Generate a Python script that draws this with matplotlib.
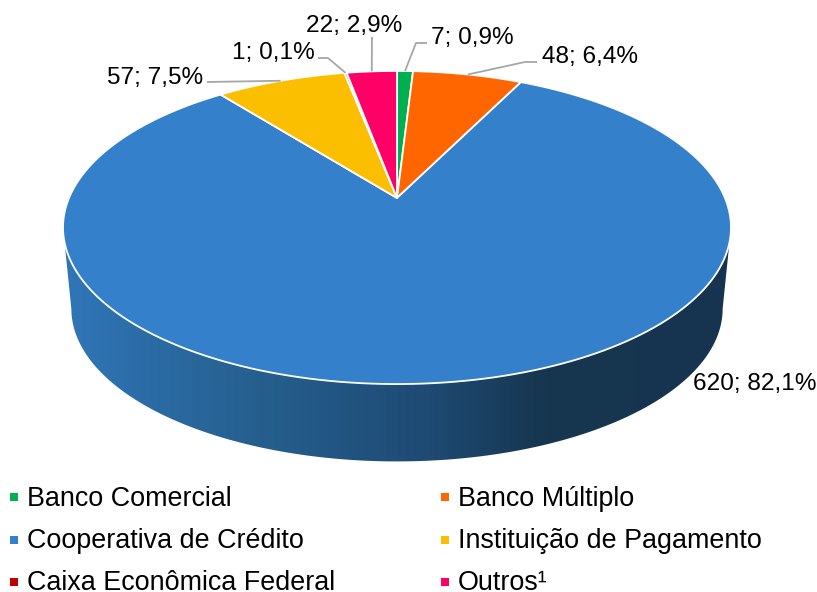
import numpy as np
import matplotlib
matplotlib.use("Agg")
import matplotlib.pyplot as plt
from matplotlib.colors import LinearSegmentedColormap
from matplotlib.patches import Polygon

plt.rcParams['font.family'] = ['Liberation Sans', 'DejaVu Sans']

names = ["Banco Comercial", "Banco Múltiplo", "Cooperativa de Crédito",
         "Instituição de Pagamento", "Caixa Econômica Federal", "Outros¹"]
values = [7, 48, 620, 57, 1, 22]
percents = ["0,9%", "6,4%", "82,1%", "7,5%", "0,1%", "2,9%"]
colors = ["#00B050", "#FF6600", "#3580CB", "#FCBF00", "#C00000", "#FF0066"]

# perspective disc, in pixels
cx, cy = 397, 198
A, B, k = 328, 151, 0.1885
depth, shrink = 82, 0.975


def rim(theta, dy=0, s=1.0):
    w = 1 + k*np.cos(theta)
    return cx + s*A*np.sin(theta)/w, cy + dy - s*B*np.cos(theta)/w


fig = plt.figure(figsize=(8.17, 5.92), dpi=100)
ax = fig.add_axes([0, 0, 1, 1])

# side wall with horizontal shading
t = np.linspace(np.pi/2 + 0.19, 3*np.pi/2 - 0.19, 300)
x1, y1 = rim(t)
x2, y2 = rim(t[::-1], depth, shrink)
wall = Polygon(np.column_stack([np.r_[x1, x2], np.r_[y1, y2]]), closed=True,
               fc="none", ec="none")
ax.add_patch(wall)
shade = LinearSegmentedColormap.from_list("shade", [
    (0.0, "#3076B8"), (0.28, "#26608F"), (0.55, "#1E4A73"),
    (0.72, "#17364F"), (1.0, "#16344F")])
im = ax.imshow(np.linspace(0, 1, 256)[None, :], extent=(64, 731, 470, 220),
               cmap=shade, aspect="auto", interpolation="bilinear")
im.set_clip_path(wall)

# top slices, clockwise from 12 o'clock
edges = np.r_[0, np.cumsum(values)]/sum(values)*2*np.pi
mids = (edges[:-1] + edges[1:])/2
for i in range(len(values)):
    t = np.linspace(edges[i], edges[i+1], 200)
    x, y = rim(t)
    ax.add_patch(Polygon(np.column_stack([np.r_[cx, x], np.r_[cy, y]]), closed=True,
                         fc=colors[i], ec="white", lw=1.3, joinstyle="round"))

# data labels and leaders
label_pos = [(431, 36), (542, 55), (693, 382), (107, 76), (232, 51), (306, 24)]
elbows = [[(427, 43), (416, 43)], [(537, 62), (525, 62)], None,
          [(207, 82)], [(318, 58), (328, 58)], [(372, 37)]]
for i in range(len(values)):
    if elbows[i] is not None:
        ex, ey = rim(mids[i])
        px = [p[0] for p in elbows[i]] + [ex]
        py = [p[1] for p in elbows[i]] + [ey]
        ax.plot(px, py, color="#A6A6A6", lw=1.3, solid_capstyle="butt")
    ax.text(label_pos[i][0], label_pos[i][1] + 2, f"{values[i]}; {percents[i]}",
            fontsize=17.6, color="black", ha="left", va="center")

# legend, two columns
col_x = [14, 445]
row_y = [497, 540, 582]
for i in range(len(names)):
    lx, ly = col_x[i % 2], row_y[i//2]
    ax.plot([lx], [ly], "s", color=colors[i], ms=5.8, mew=0)
    ax.text(lx + 13, ly + 8.5, names[i], fontsize=19.4, color="black",
            ha="left", va="baseline")

ax.set_xlim(0, 817)
ax.set_ylim(592, 0)
ax.axis("off")
fig.savefig("out.png", dpi=100)
